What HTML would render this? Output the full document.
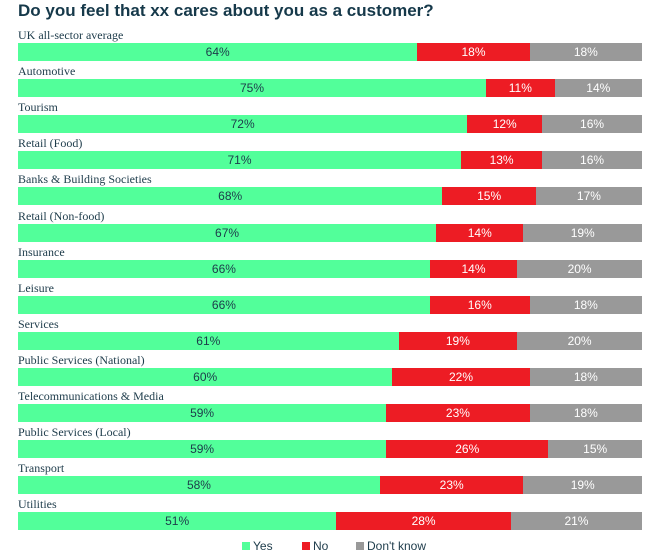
<!DOCTYPE html>
<html><head><meta charset="utf-8"><style>
body{margin:0;background:#fff;width:666px;height:559px;overflow:hidden;font-family:"Liberation Sans",sans-serif}
#title{position:absolute;left:18px;top:1px;font-size:17px;font-weight:bold;color:#16394a}
.lbl{position:absolute;left:18px;font-family:"Liberation Serif",serif;font-size:12px;color:#1d3b4a}
.seg{position:absolute;height:18px;line-height:18px;text-align:center;font-size:12px}
.leg{position:absolute;top:539px;font-size:12px;color:#1d3b4a}
.sq{display:inline-block;width:8px;height:8px;margin-right:3px;vertical-align:-0px}
</style></head><body>
<div id="title">Do you feel that xx cares about you as a customer?</div>
<div id="chart"></div>
<div class="leg" style="left:242px"><span class="sq" style="background:#52ff9a"></span>Yes</div>
<div class="leg" style="left:302px"><span class="sq" style="background:#ed1c24"></span>No</div>
<div class="leg" style="left:356px"><span class="sq" style="background:#999"></span>Don't know</div>
<script>
const categories=["UK all-sector average","Automotive","Tourism","Retail (Food)","Banks & Building Societies","Retail (Non-food)","Insurance","Leisure","Services","Public Services (National)","Telecommunications & Media","Public Services (Local)","Transport","Utilities"];
const yesValues=[64,75,72,71,68,67,66,66,61,60,59,59,58,51];
const noValues=[18,11,12,13,15,14,14,16,19,22,23,26,23,28];
const dkValues=[18,14,16,16,17,19,20,18,20,18,18,15,19,21];
const X0=18,W=624,Y0=43,PITCH=36.1,H=18;
const xs=v=>v/100*W;
const chart=document.getElementById('chart');
categories.forEach((c,i)=>{
  const y=Y0+i*PITCH;
  const l=document.createElement('div');l.className='lbl';l.style.top=(y-15)+'px';l.textContent=c;
  
  
  chart.appendChild(l);
  const vals=[yesValues[i],noValues[i],dkValues[i]];
  const sum=vals[0]+vals[1]+vals[2];
  const cols=['#52ff9a','#ed1c24','#999'],tc=['#1d3b4a','#fff','#fff'],names=['bar-yes','bar-no','bar-dont-know'];
  let acc=0;
  vals.forEach((v,k)=>{
    const s=document.createElement('div');s.className='seg';
    const x1=X0+xs(acc/sum*100),x2=X0+xs((acc+v)/sum*100);
    s.style.left=x1+'px';s.style.width=(x2-x1)+'px';s.style.top=y+'px';
    s.style.background=cols[k];s.style.color=tc[k];s.textContent=v+'%';
    
    
    chart.appendChild(s);acc+=v;
  });
});
</script>
</body></html>
